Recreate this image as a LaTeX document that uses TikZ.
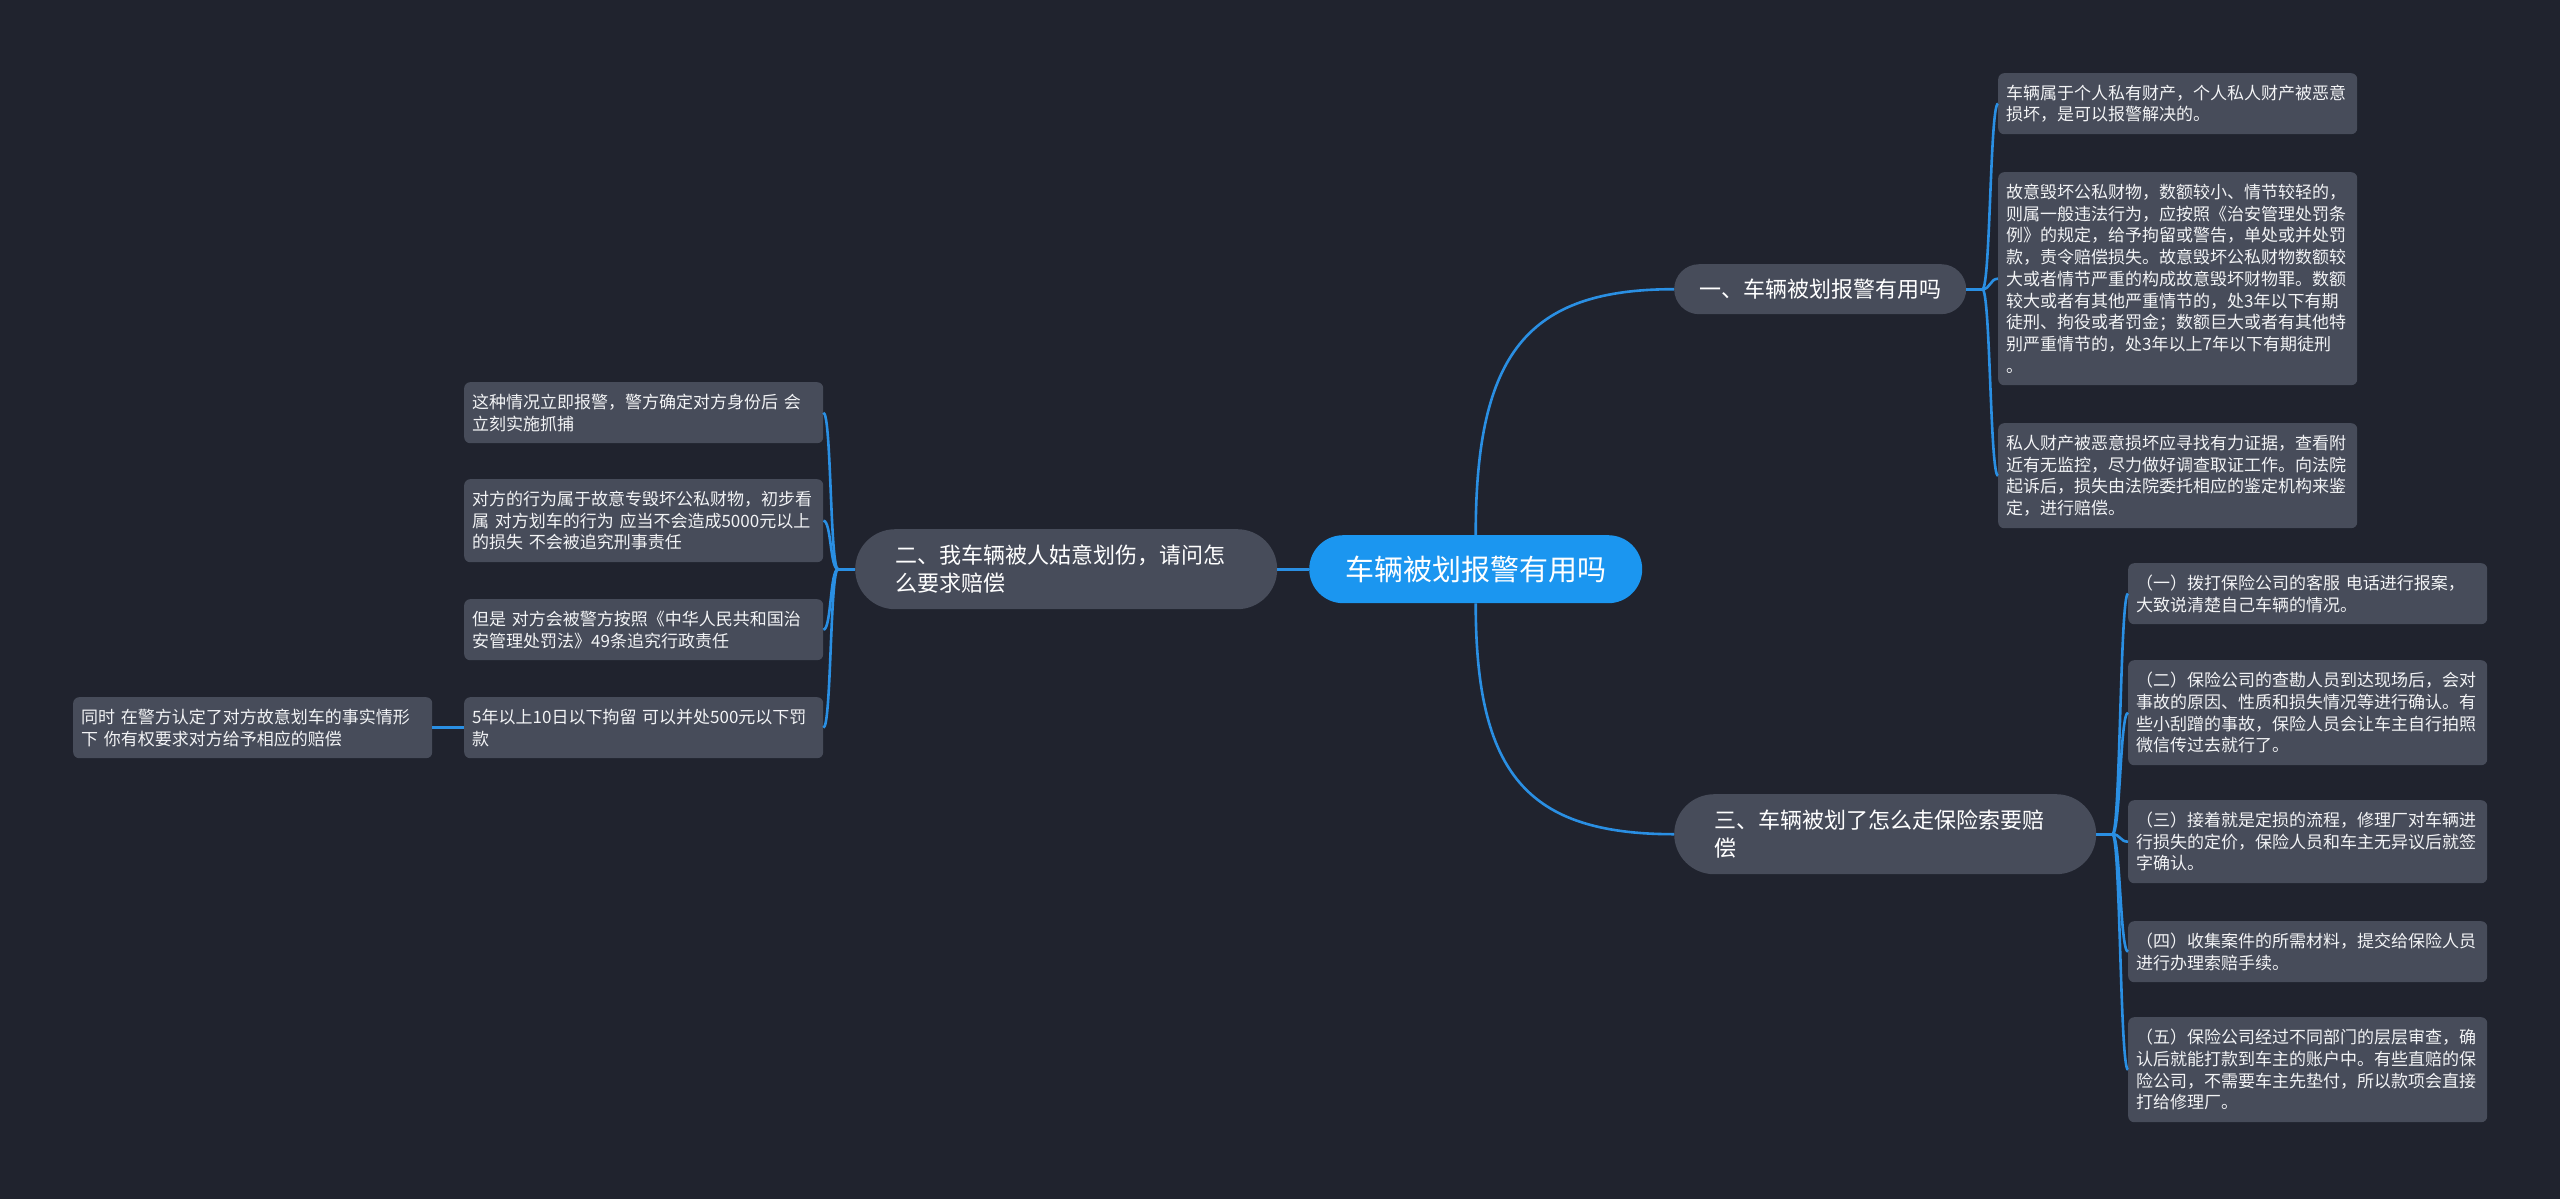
\documentclass[tikz,border=0pt]{standalone}
\usepackage{fontspec}
\newfontfamily\cjk{Noto Sans CJK SC}
\usetikzlibrary{calc}
\definecolor{bg}{HTML}{20232E}
\definecolor{boxc}{HTML}{474C5A}
\definecolor{centc}{HTML}{1B96F0}
\definecolor{linec}{HTML}{2A8FE3}
\definecolor{txt}{HTML}{F2F3F5}
\tikzset{
  leaf/.style={fill=boxc, rounded corners=6pt, anchor=north west, text width=343pt,
    inner xsep=8pt, inner ysep=0pt, align=left, text=txt,
    font=\cjk\fontsize{17}{21.7}\selectfont},
  lA/.style={leaf, minimum height=61pt},
  lB/.style={leaf, minimum height=83pt},
  lC/.style={leaf, minimum height=105pt},
  lD/.style={leaf, minimum height=213pt},
  branchbox/.style={fill=boxc, anchor=north west, text=white,
    font=\cjk\fontsize{22}{28}\selectfont},
  onebox/.style={branchbox, minimum width=292pt, minimum height=50pt,
    rounded corners=25pt, inner sep=0pt, align=center},
  twobox/.style={branchbox, text width=342pt, inner xsep=40pt, inner ysep=0pt,
    minimum height=80pt, rounded corners=40pt, align=left},
  centbox/.style={fill=centc, anchor=north west, text=white, minimum width=333pt,
    minimum height=68pt, rounded corners=34pt, inner sep=0pt,
    font=\cjk\fontsize{29}{34}\selectfont},
  conn/.style={draw=linec, line width=2.6pt},
}
\begin{document}
\begin{tikzpicture}[x=1pt,y=-1pt]
\fill[bg] (0,0) rectangle (2560,1199);
\useasboundingbox (0,0) rectangle (2560,1199);

% central and branch nodes
\node[centbox] (c) at (1309,535) {车辆被划报警有用吗};
\node[onebox] (b1) at (1674,264) {一、车辆被划报警有用吗};
\node[twobox] (b2) at (855,529) {二、我车辆被人姑意划伤，请问怎\\么要求赔偿};
\node[twobox] (b3) at (1674,794) {三、车辆被划了怎么走保险索要赔\\偿};

% branch 1 leaves
\node[lA] (l1a) at (1998,73) {车辆属于个人私有财产，个人私人财产被恶意\\损坏，是可以报警解决的。};
\node[lD] (l1b) at (1998,172) {故意毁坏公私财物，数额较小、情节较轻的，\\则属一般违法行为，应按照《治安管理处罚条\\例》的规定，给予拘留或警告，单处或并处罚\\款，责令赔偿损失。故意毁坏公私财物数额较\\大或者情节严重的构成故意毁坏财物罪。数额\\较大或者有其他严重情节的，处3年以下有期\\徒刑、拘役或者罚金；数额巨大或者有其他特\\别严重情节的，处3年以上7年以下有期徒刑\\。};
\node[lC] (l1c) at (1998,423) {私人财产被恶意损坏应寻找有力证据，查看附\\近有无监控，尽力做好调查取证工作。向法院\\起诉后，损失由法院委托相应的鉴定机构来鉴\\定，进行赔偿。};

% branch 3 leaves
\node[lA] (l3a) at (2128,563) {（一）拨打保险公司的客服~电话进行报案，\\大致说清楚自己车辆的情况。};
\node[lC] (l3b) at (2128,660) {（二）保险公司的查勘人员到达现场后，会对\\事故的原因、性质和损失情况等进行确认。有\\些小刮蹭的事故，保险人员会让车主自行拍照\\微信传过去就行了。};
\node[lB] (l3c) at (2128,800) {（三）接着就是定损的流程，修理厂对车辆进\\行损失的定价，保险人员和车主无异议后就签\\字确认。};
\node[lA] (l3d) at (2128,921) {（四）收集案件的所需材料，提交给保险人员\\进行办理索赔手续。};
\node[lC] (l3e) at (2128,1017) {（五）保险公司经过不同部门的层层审查，确\\认后就能打款到车主的账户中。有些直赔的保\\险公司，不需要车主先垫付，所以款项会直接\\打给修理厂。};

% branch 2 leaves
\node[lA] (l2a) at (464,382) {这种情况立即报警，警方确定对方身份后~会\\立刻实施抓捕};
\node[lB] (l2b) at (464,479) {对方的行为属于故意专毁坏公私财物，初步看\\属~对方划车的行为~应当不会造成5000元以上\\的损失~不会被追究刑事责任};
\node[lA] (l2c) at (464,599) {但是~对方会被警方按照《中华人民共和国治\\安管理处罚法》49条追究行政责任};
\node[lA] (l2d) at (464,697) {5年以上10日以下拘留~可以并处500元以下罚\\款};
\node[lA] (l2e) at (73,697) {同时~在警方认定了对方故意划车的事实情形\\下~你有权要求对方给予相应的赔偿};

% main connectors
\draw[conn] (c.west) -- (b2.east);
\draw[conn] (c.north) .. controls ($(c.north)!0.74!(c.north |- b1.west)$)
  and ($(b1.west)!0.74!(c.north |- b1.west)$) .. (b1.west);
\draw[conn] (c.south) .. controls ($(c.south)!0.74!(c.south |- b3.west)$)
  and ($(b3.west)!0.74!(c.south |- b3.west)$) .. (b3.west);

% forks
\path (b1.east) ++(16,0) coordinate (f1);
\path (b3.east) ++(16,0) coordinate (f3);
\path (b2.west) ++(-17,0) coordinate (f2);
\draw[conn] (b1.east) -- (f1);
\draw[conn] (b3.east) -- (f3);
\draw[conn] (b2.west) -- (f2);

\foreach \l in {l1a,l1b,l1c}
  \draw[conn] (f1) .. controls ($(f1)+(8,0)$) and ($(\l.west)+(-8,0)$) .. (\l.west);
\foreach \l in {l3a,l3b,l3c,l3d,l3e}
  \draw[conn] (f3) .. controls ($(f3)+(8,0)$) and ($(\l.west)+(-8,0)$) .. (\l.west);
\foreach \l in {l2a,l2b,l2c,l2d}
  \draw[conn] (f2) .. controls ($(f2)+(-8,0)$) and ($(\l.east)+(8,0)$) .. (\l.east);

\draw[conn] (l2d.west) -- (l2e.east);
\end{tikzpicture}
\end{document}
